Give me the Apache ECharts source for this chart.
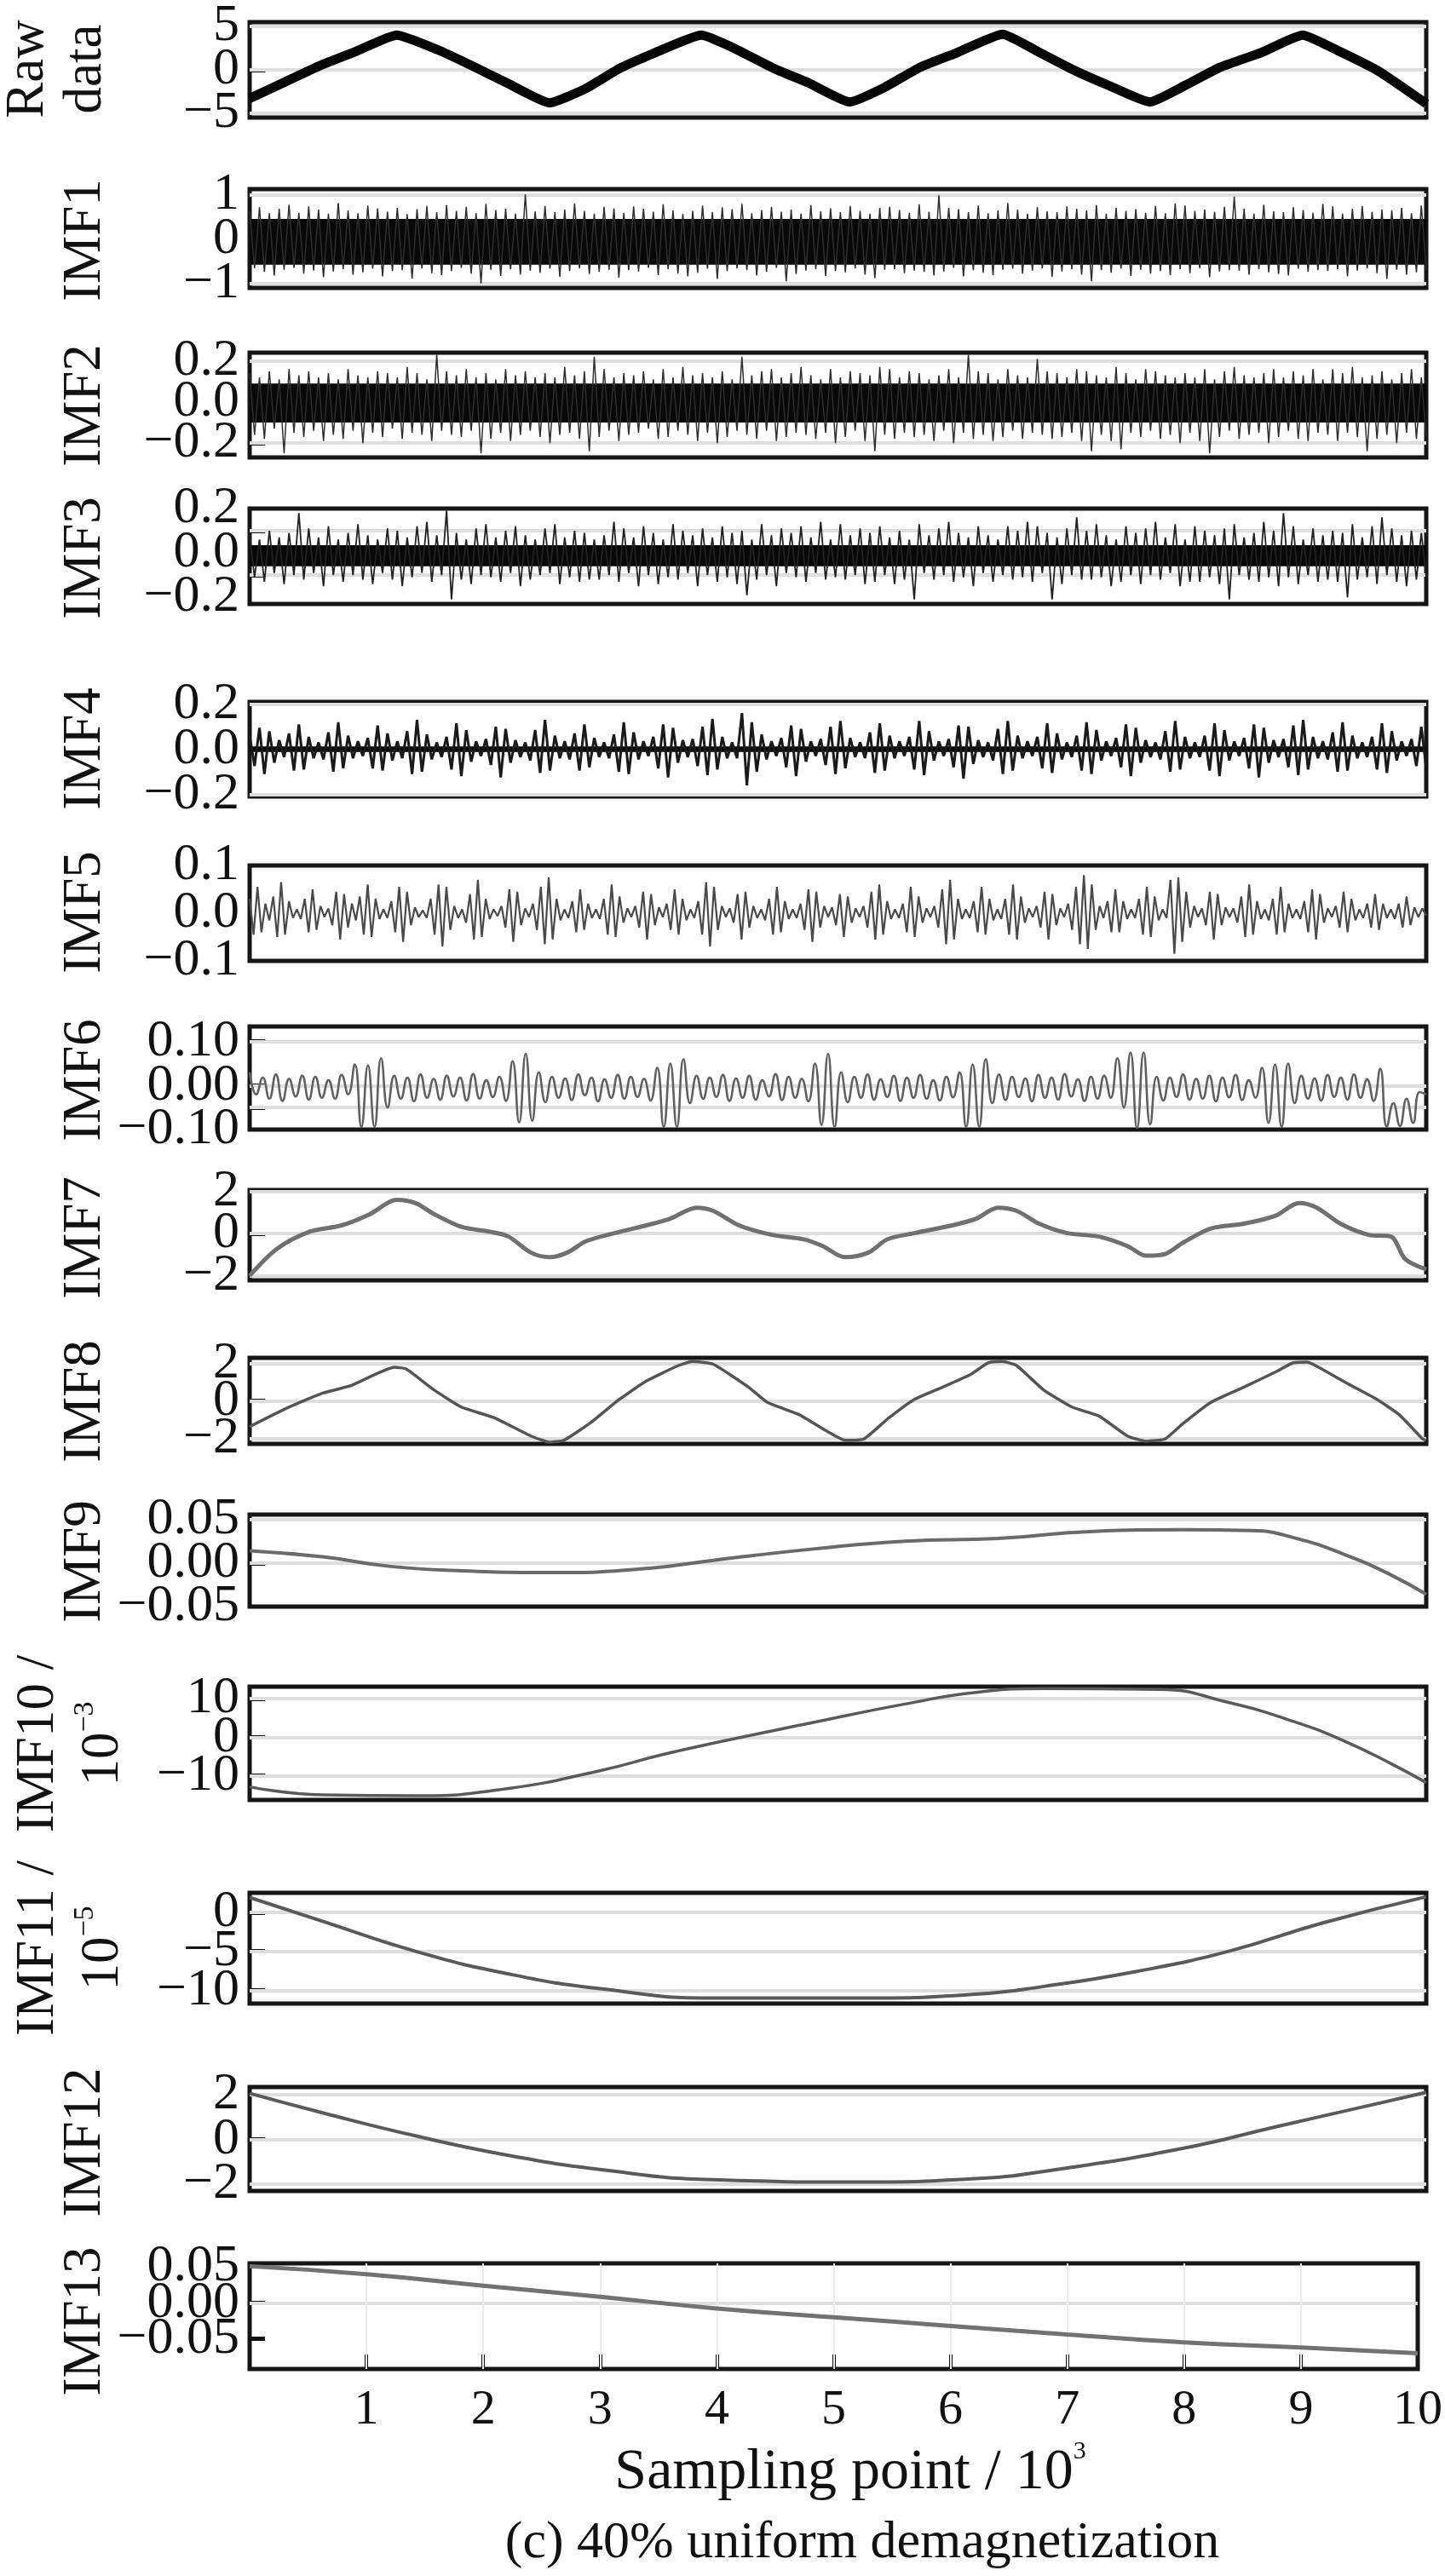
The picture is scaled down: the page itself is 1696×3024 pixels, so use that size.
<!DOCTYPE html>
<html><head><meta charset="utf-8">
<script src="https://cdn.jsdelivr.net/npm/echarts@6/dist/echarts.min.js"></script>
<style>html,body{margin:0;padding:0;background:#fff}#c{width:1696px;height:3024px}</style>
</head><body><div id="c"></div>
<script>
const FONT = '"Liberation Serif", "Times New Roman", serif';

// ---------- data (x in 10^3 sampling points) ----------
const xTickLabels = [1,2,3,4,5,6,7,8,9,10];
const panelNames = ['Raw\ndata','IMF1','IMF2','IMF3','IMF4','IMF5','IMF6','IMF7','IMF8','IMF9','IMF10 /','IMF11 /','IMF12','IMF13'];

const rawData = [[0,-3.3],[0.3,-1.4],[0.6,0.5],[0.9,2.1],[1.25,4.0],[1.6,2.3],[1.9,0.4],[2.2,-1.6],[2.55,-3.8],[2.85,-2.2],[3.15,0.2],[3.45,2.0],[3.84,4.0],[4.1,2.6],[4.45,0.2],[4.75,-1.5],[5.1,-3.7],[5.4,-2.0],[5.7,0.3],[6.0,1.9],[6.4,4.1],[6.7,2.1],[7.0,0.0],[7.3,-1.8],[7.65,-3.7],[7.95,-1.8],[8.25,0.3],[8.6,2.0],[8.95,4.0],[9.25,2.2],[9.6,-0.2],[10,-3.9]];

// noise extremes, alternating peak/trough, evenly spaced over 0..10 (x10^3)
const imf1Ext = [ // ×0.01
62,-66,71,-74,58,-82,68,-69,77,-65, 59,-78,73,-71,66,-86,57,-73,81,-68, 64,-80,58,-75,75,-67,69,-84,61,-72,
70,-70,56,-89,67,-66,74,-77,60,-81, 76,-72,63,-65,72,-78,58,-100,79,-69, 65,-83,68,-68,57,-80,100,-71,62,-76,
74,-67,60,-85,66,-72,80,-66,63,-79, 57,-74,72,-69,69,-87,59,-70,73,-73, 68,-65,61,-81,78,-68,64,-78,56,-84,
63,-76,75,-67,60,-90,71,-72,67,-66, 79,-70,58,-82,65,-74,72,-65,61,-95, 66,-79,57,-71,76,-68,62,-83,69,-72,
60,-75,74,-66,63,-80,57,-88,70,-69, 72,-68,65,-77,59,-71,78,-74,61,-82, 98,-73,70,-65,67,-84,60,-70,75,-76,
58,-81,64,-69,81,-67,66,-78,57,-71, 71,-66,62,-85,60,-73,73,-68,68,-80, 64,-95,76,-70,57,-76,70,-67,63,-83,
67,-69,59,-78,74,-72,58,-81,80,-68, 75,-77,63,-66,66,-86,61,-73,72,-70, 95,-71,68,-80,57,-68,77,-75,62,-79,
60,-82,71,-67,65,-74,59,-70,79,-72, 73,-68,57,-84,68,-71,74,-66,61,-77, 66,-90,64,-69,70,-80,58,-75,75,-70];
const imf2Ext = [ // ×0.01
14,-16,12,-18,15,-13,11,-25,16,-15, 13,-17,15,-14,12,-19,14,-16,11,-18, 16,-14,13,-20,12,-15,15,-17,14,-13,
12,-18,17,-15,14,-16,11,-19,23,-14, 15,-16,13,-17,16,-14,12,-25,14,-18, 11,-15,16,-19,13,-16,15,-14,12,-17,
14,-20,12,-16,17,-15,13,-18,15,-24, 22,-17,16,-14,12,-19,14,-16,13,-15, 15,-13,11,-18,16,-17,12,-14,17,-16,
13,-19,14,-15,12,-20,15,-17,11,-14, 22,-16,13,-18,15,-14,16,-19,12,-17, 14,-15,17,-16,13,-18,11,-15,16,-20,
12,-17,15,-14,14,-19,13,-24,17,-16, 16,-18,12,-15,15,-17,14,-16,11,-19, 13,-14,16,-20,12,-15,23,-18,15,-16,
14,-19,11,-17,16,-14,13,-18,12,-15, 21,-16,15,-18,14,-17,12,-15,16,-19, 15,-24,13,-16,12,-19,17,-23,14,-15,
11,-17,16,-14,15,-18,13,-16,12,-20, 14,-15,12,-19,16,-25,11,-17,15,-14, 17,-18,13,-16,12,-15,14,-20,16,-17,
12,-14,15,-18,13,-19,16,-15,11,-16, 16,-19,14,-15,17,-17,12,-24,13,-18, 15,-16,11,-20,14,-15,16,-18,12,-17];
const imf3Ext = [ // ×0.01
8,-11,6,-13,10,-9,7,-14,9,-10, 18,-12,11,-9,7,-15,12,-10,6,-13, 9,-10,13,-12,8,-14,6,-9,11,-12,
10,-15,7,-11,12,-9,14,-13,8,-10, 19,-21,9,-12,6,-14,11,-10,13,-11, 7,-13,10,-9,12,-15,8,-12,6,-10,
11,-9,13,-14,7,-11,10,-13,9,-12, 6,-12,8,-10,14,-13,11,-9,7,-15, 12,-10,9,-14,6,-11,13,-12,10,-9,
8,-15,11,-10,7,-13,12,-11,9,-14, 10,-19,6,-12,13,-10,8,-15,11,-9, 9,-11,12,-13,7,-9,14,-12,6,-11,
13,-12,8,-10,11,-14,9,-13,12,-10, 7,-14,10,-12,6,-21,13,-9,8,-12, 11,-10,14,-13,9,-11,7,-15,12,-9,
8,-13,6,-10,12,-12,10,-11,14,-13, 12,-9,9,-21,7,-14,11,-10,16,-12, 10,-12,13,-11,8,-15,6,-13,12,-10,
9,-14,11,-10,14,-12,7,-9,13,-15, 6,-13,12,-13,10,-11,8,-14,11,-21, 13,-10,7,-12,9,-13,14,-11,10,-15,
18,-11,12,-14,6,-10,11,-13,8,-12, 10,-13,9,-20,13,-12,7,-11,12,-14, 16,-10,11,-13,8,-15,10,-12,9,-11];
const imf4Ext = [ // ×0.001
60,-75,95,-110,80,-60,40,-35,70,-95, 110,-90,55,-40,30,-45,75,-100,120,-85, 60,-40,35,-30,50,-85,105,-95,70,-50,
35,-40,80,-110,130,-100,65,-45,30,-35, 55,-90,115,-120,85,-55,35,-30,45,-70, 100,-125,90,-60,40,-35,30,-50,85,-105,
130,-95,60,-40,35,-45,70,-95,110,-80, 50,-35,30,-40,65,-100,120,-110,75,-45, 35,-30,55,-85,110,-125,95,-60,40,-35,
45,-75,100,-115,135,-90,55,-40,30,-40, 160,-160,120,-100,65,-45,35,-30,50,-80, 105,-120,90,-55,35,-30,45,-70,100,-110,
125,-85,50,-35,30,-40,75,-105,115,-95, 60,-40,35,-30,55,-90,125,-115,80,-50, 35,-30,45,-80,105,-130,100,-65,40,-35,
30,-50,90,-110,125,-95,60,-40,35,-30, 55,-85,115,-105,70,-45,30,-35,60,-95, 120,-110,85,-50,35,-30,50,-80,110,-120,
95,-60,40,-35,30,-45,80,-100,125,-90, 55,-40,30,-35,60,-95,115,-120,85,-50, 35,-30,50,-85,110,-125,95,-60,40,-35,
45,-80,105,-115,130,-90,55,-40,35,-45, 75,-100,120,-95,60,-40,30,-35,55,-90, 115,-105,80,-50,35,-30,45,-75,100,-85];
const imf5Ext = [ // ×0.001
30,-45,55,-40,20,-15,35,-50,65,-45, 25,-10,8,-12,30,-40,50,-35,15,-8, 10,-25,45,-55,40,-30,20,-15,35,-45,
60,-50,30,-12,8,-10,25,-40,55,-60, 45,-25,12,-8,6,-10,30,-45,60,-70, 55,-35,15,-10,8,-20,40,-55,70,-50,
30,-12,8,-6,15,-30,50,-60,45,-25, 10,-8,20,-35,55,-65,75,-55,30,-15, 8,-10,25,-40,50,-35,20,-10,8,-12,
30,-45,60,-50,35,-20,10,-8,15,-30, 45,-55,40,-25,12,-8,20,-35,50,-45, 30,-15,8,-10,25,-45,65,-70,55,-35,
15,-8,10,-20,40,-55,45,-30,15,-10, 8,-15,30,-45,55,-40,25,-12,8,-10, 20,-35,50,-60,45,-30,15,-8,12,-25,
40,-50,35,-20,10,-8,15,-30,45,-55, 60,-45,25,-12,8,-10,20,-40,55,-50, 35,-20,10,-8,15,-30,50,-65,70,-55,
30,-12,8,-10,25,-40,55,-45,30,-15, 8,-12,30,-45,60,-55,35,-20,10,-8, 15,-30,45,-55,40,-25,10,-8,20,-35,
55,-65,80,-75,60,-35,15,-10,25,-40, 50,-40,25,-12,8,-10,30,-45,55,-50, 35,-15,8,-10,70,-85,75,-60,45,-30,
15,-8,10,-25,45,-55,40,-25,12,-8, 10,-20,35,-50,60,-45,25,-12,8,-15, 30,-45,55,-40,20,-10,8,-12,25,-40,
50,-55,40,-20,10,-8,15,-30,45,-40, 30,-15,8,-10,20,-30,40,-35,20,-10, 8,-12,20,-30,35,-25,12,-8,10,-5];
const imf6Ext = [ // ×0.001
30,-20,18,-30,25,-35,15,-25,22,-32, 20,-28,12,-30,24,-20,48,-94,46,-94, 62,-50,22,-30,18,-36,25,-28,15,-32,
22,-25,18,-34,26,-30,12,-26,20,-35, 55,-84,72,-80,30,-38,20,-28,16,-33, 25,-22,18,-36,14,-28,24,-30,20,-26,
15,-34,40,-94,50,-94,60,-40,22,-30, 18,-26,24,-35,16,-28,22,-32,12,-25, 26,-33,20,-28,15,-36,50,-90,72,-94,
30,-38,20,-28,25,-32,14,-26,22,-35, 18,-28,24,-30,12,-34,20,-27,30,-94, 48,-94,60,-40,25,-33,20,-26,16,-36,
24,-28,18,-32,26,-25,14,-35,20,-30, 22,-28,62,-50,75,-97,75,-88,20,-34, 18,-26,25,-32,15,-30,22,-36,18,-27,
24,-33,12,-28,40,-85,48,-94,50,-40, 22,-30,16,-34,24,-26,18,-32,25,-28, 14,-35,38,-94,-40,-92,-30,-85,-15,-20];

const imf7 = [[0,-2.0],[0.23,-0.73],[0.51,0.09],[0.78,0.39],[1.02,0.92],[1.25,1.6],[1.41,1.45],[1.57,0.92],[1.8,0.32],[2.04,0.09],[2.2,-0.14],[2.39,-0.9],[2.55,-1.12],[2.7,-0.9],[2.86,-0.36],[3.1,0.02],[3.37,0.39],[3.57,0.7],[3.8,1.23],[3.94,1.08],[4.16,0.39],[4.44,-0.06],[4.71,-0.27],[4.87,-0.59],[5.06,-1.12],[5.26,-0.9],[5.42,-0.27],[5.65,0.02],[5.97,0.39],[6.17,0.7],[6.36,1.23],[6.52,1.08],[6.71,0.47],[6.95,0.02],[7.22,-0.14],[7.46,-0.59],[7.62,-1.05],[7.78,-0.97],[7.93,-0.44],[8.17,0.24],[8.45,0.47],[8.72,0.85],[8.92,1.45],[9.07,1.23],[9.27,0.47],[9.51,-0.06],[9.7,-0.14],[9.82,-1.2],[10,-1.7]];
const imf8 = [[0,-1.37],[0.31,-0.4],[0.62,0.41],[0.86,0.81],[1.23,1.79],[1.33,1.7],[1.57,0.57],[1.8,-0.33],[2.08,-0.9],[2.39,-1.87],[2.55,-2.2],[2.67,-2.1],[2.9,-1.15],[3.14,0.07],[3.37,1.05],[3.64,1.87],[3.76,2.1],[3.94,1.95],[4.24,0.73],[4.4,-0.08],[4.67,-0.73],[4.91,-1.63],[5.06,-2.1],[5.22,-2.03],[5.42,-0.97],[5.65,0.08],[5.89,0.73],[6.12,1.38],[6.28,2.03],[6.4,2.1],[6.52,1.87],[6.75,0.57],[6.99,-0.33],[7.22,-0.81],[7.46,-1.87],[7.62,-2.15],[7.78,-2.03],[7.93,-1.22],[8.17,-0.08],[8.45,0.73],[8.72,1.54],[8.87,2.03],[8.99,2.06],[9.11,1.7],[9.34,0.89],[9.58,0.08],[9.77,-0.73],[9.97,-2.03],[10,-2.1]];
const imf9 = [[0,0.014],[0.62,0.007],[1.2,-0.004],[1.8,-0.009],[2.6,-0.011],[3.4,-0.006],[3.94,0.003],[4.79,0.016],[5.57,0.025],[6.36,0.028],[7.14,0.036],[7.93,0.038],[8.52,0.037],[8.9,0.028],[9.3,0.01],[9.69,-0.013],[10,-0.036]];
const imf10 = [[0,-12.9],[0.62,-15.0],[1.41,-15.2],[2.2,-13.3],[2.99,-8.6],[3.5,-4.6],[3.95,-1.5],[4.79,3.8],[5.57,8.6],[6.17,11.6],[6.75,12.6],[7.73,12.4],[8.32,9.0],[8.9,3.8],[9.3,-0.95],[9.69,-6.7],[10,-11.8]];
const imf11 = [[0,1.9],[0.63,-1.2],[1.41,-5.0],[2.2,-7.9],[2.98,-9.8],[3.94,-11.0],[5.18,-11.0],[6.17,-10.5],[6.75,-9.5],[7.53,-7.6],[8.32,-5.0],[9.11,-1.4],[10,2.0]];
const imf12 = [[0,2.06],[0.62,1.19],[1.41,0.16],[2.2,-0.71],[2.99,-1.35],[3.94,-1.8],[5.18,-1.9],[6.17,-1.75],[6.95,-1.27],[7.93,-0.4],[8.72,0.56],[9.5,1.5],[10,2.1]];
const imf13 = [[0,0.051],[1,0.040],[2,0.024],[3,0.0085],[4,-0.0077],[5,-0.020],[6,-0.032],[7,-0.044],[8,-0.055],[9,-0.062],[10,-0.070]];

// axis ranges and tick values per panel
const yMin = [-5.5,-1.1,-0.27,-0.23,-0.21,-0.1,-0.1,-2.22,-2.29,-0.05,-16.3,-11.7,-2.3,-0.092];
const yMax = [5.5,1.12,0.24,0.2,0.21,0.1,0.134,2.07,2.29,0.0554,13.1,2.5,2.34,0.055];
const yLabelVals = [[-5,0,5],[-1,0,1],[-0.2,0,0.2],[-0.2,0,0.2],[-0.2,0,0.2],[-0.1,0,0.1],[-0.1,0,0.1],[-2,0,2],[-2,0,2],[-0.05,0,0.05],[-10,0,10],[-10,-5,0],[-2,0,2],[-0.05,0,0.05]];
const yTickVals = [[0],[],[-0.2],[-0.1,0.1],[],[],[-0.05,0,0.1],[0],[0],[0],[-10,0,10],[-10,-5,0],[0],[-0.05,0]];
const yGridVals = [[-5,0,5],[-1,1],[-0.2,0,0.2],[-0.1,0.1],[-0.2,0.2],[],[-0.05,0,0.1],[-2,0,2],[-2,0,2],[0,0.05],[-10,0,10],[-10,-5,0],[-2,0,2],[0]];
const yDecimals = [0,0,1,1,1,1,2,0,0,2,0,0,0,2];
const coreBands = {1:[-0.58,0.45], 2:[-0.1,0.09], 3:[-0.06,0.035], 4:[-0.012,0.012]};

// ---------- layout ----------
const L = 293, W = 1381;
const gridTop = [23,222,414,597,824,1016,1205,1397,1594,1778,1980,2222,2450,2657];
const gridH   = [115,116,123,112,111,112,121,106,101,108,133,130,122,124];
const lineColor = ['#060606','#2e2e2e','#2e2e2e','#222','#1a1a1a','#4a4a4a','#606060','#707070','#555','#6a6a6a','#5a5a5a','#5a5a5a','#5a5a5a','#727272'];
const lineWidth = [11,1.5,1.5,1.8,3,2.2,2.6,5,3.5,4,3.5,4,4,5];
const smoothOpt = [0.15,false,false,false,false,false,0.5,0.3,0.15,true,true,true,true,true];

function ext(arr, unit){ const n = arr.length; return arr.map((v,i)=>[i*10/(n-1), +(v*unit).toFixed(4)]); }
const panelData = [rawData, ext(imf1Ext,0.01), ext(imf2Ext,0.01), ext(imf3Ext,0.01), ext(imf4Ext,0.001), ext(imf5Ext,0.001), ext(imf6Ext,0.001), imf7, imf8, imf9, imf10, imf11, imf12, imf13];

const grids=[], xAxes=[], yAxes=[], series=[];
function yAxisDef(k, labels, withTicks){
  const dec = yDecimals[k];
  const ticks = yTickVals[k];
  return {type:'value', gridIndex:k, min:yMin[k], max:yMax[k], position:'left',
    axisLine:{show:false, onZero:false}, splitLine:{show:false},
    axisTick:{show:withTicks && ticks.length>0, inside:true, length:18, customValues:ticks.length?ticks:undefined, lineStyle:{width:5,color:'#111'}},
    axisLabel:{customValues:labels, fontSize:62, fontFamily:FONT, color:'#111', margin:12,
      hideOverlap:false, showMinLabel:true, showMaxLabel:true,
      formatter:v=>{ let s=Number(v).toFixed(dec); if (parseFloat(s)===0) s=(0).toFixed(dec); return s.replace('-','\u2212'); }}};
}
for (let k=0;k<14;k++){
  grids.push({left:L, width:W, top:gridTop[k], height:gridH[k], show:true, borderColor:'#151515', borderWidth:5, backgroundColor:'transparent'});
  const last = k===13;
  xAxes.push({type:'value', gridIndex:k, min:0, max:10, position:'bottom',
    axisLine:{show:false, onZero:false}, splitLine:{show:false},
    axisTick:{show:last, inside:true, length:17, customValues:[1,2,3,4,5,6,7,8,9], lineStyle:{width:4,color:'#111'}},
    axisLabel:{show:last, customValues:xTickLabels, fontSize:58, fontFamily:FONT, color:'#111', margin:20, hideOverlap:false, showMinLabel:true, showMaxLabel:true}});
  const lv = yLabelVals[k];
  // outer labels on one axis, middle label on a twin axis (same scale) so none are dropped as overlapping
  yAxes.push(yAxisDef(k, [lv[0], lv[lv.length-1]], true));
  yAxes.push(yAxisDef(k, lv.slice(1, lv.length-1), false));
  const mlData = yGridVals[k].map(v=>({yAxis:v}));
  if (last) [1,2,3,4,5,6,7,8,9].forEach(v=>mlData.push({xAxis:v, lineStyle:{color:'#ececec', width:2}}));
  const s = {type:'line', xAxisIndex:k, yAxisIndex:2*k, data:panelData[k], showSymbol:false, symbol:'none',
    smooth:smoothOpt[k], z:3, silent:true, animation:false,
    lineStyle:{color:lineColor[k], width:lineWidth[k]},
    markLine:{silent:true, z:1, symbol:'none', animation:false, label:{show:false},
      lineStyle:{color:'#dedede', width:4, type:'solid'}, data:mlData}};
  if (coreBands[k]) s.markArea = {silent:true, z:2, animation:false, itemStyle:{color:'#080808', opacity:1},
      data:[[{yAxis:coreBands[k][0]},{yAxis:coreBands[k][1]}]]};
  series.push(s);
}

// ---------- text ----------
const nameX = [67,100,100,100,100,100,100,100,100,100,83,83,100,100];
const nameY = [81,282,476,655,879,1071,1268,1453,1645,1833,2047,2287,2515,2725];
const supText = {10:'\u22123', 11:'\u22125'};
const graphics = [];
for (let k=0;k<14;k++){
  let style;
  if (supText[k]) {
    style = {text:'{n|'+panelNames[k]+'}\n{n|10}{s|'+supText[k]+'}',
      rich:{n:{fontSize:63, fontFamily:FONT, fill:'#111', lineHeight:76}, s:{fontSize:34, fontFamily:FONT, fill:'#111', lineHeight:40, verticalAlign:'top'}}};
  } else {
    style = {text:panelNames[k], font:'63px ' + FONT, fontSize:63, fontFamily:FONT, fill:'#111', lineHeight:68};
  }
  Object.assign(style, {x:0, y:0, align:'center', verticalAlign:'middle', textAlign:'center', textVerticalAlign:'middle'});
  graphics.push({type:'text', x:nameX[k], y:nameY[k], rotation:Math.PI/2, silent:true, style});
}
graphics.push({type:'text', x:998, y:2903, silent:true, style:{x:0,y:0,
  text:'{n|Sampling point / 10}{s|3}', align:'center', verticalAlign:'middle', textAlign:'center', textVerticalAlign:'middle',
  rich:{n:{fontSize:68, fontFamily:FONT, fill:'#111', lineHeight:80}, s:{fontSize:30, fontFamily:FONT, fill:'#111', lineHeight:44, verticalAlign:'top'}}}});
graphics.push({type:'text', x:1012, y:2986, silent:true, style:{x:0,y:0,
  text:'(c) 40% uniform demagnetization', font:'62px ' + FONT, fontSize:62, fontFamily:FONT, fill:'#111',
  align:'center', verticalAlign:'middle', textAlign:'center', textVerticalAlign:'middle'}});

const chart = echarts.init(document.getElementById('c'), null, {renderer:'canvas'});
chart.setOption({animation:false, backgroundColor:'#fff', grid:grids, xAxis:xAxes, yAxis:yAxes, series, graphic:graphics});
</script>
</body></html>
